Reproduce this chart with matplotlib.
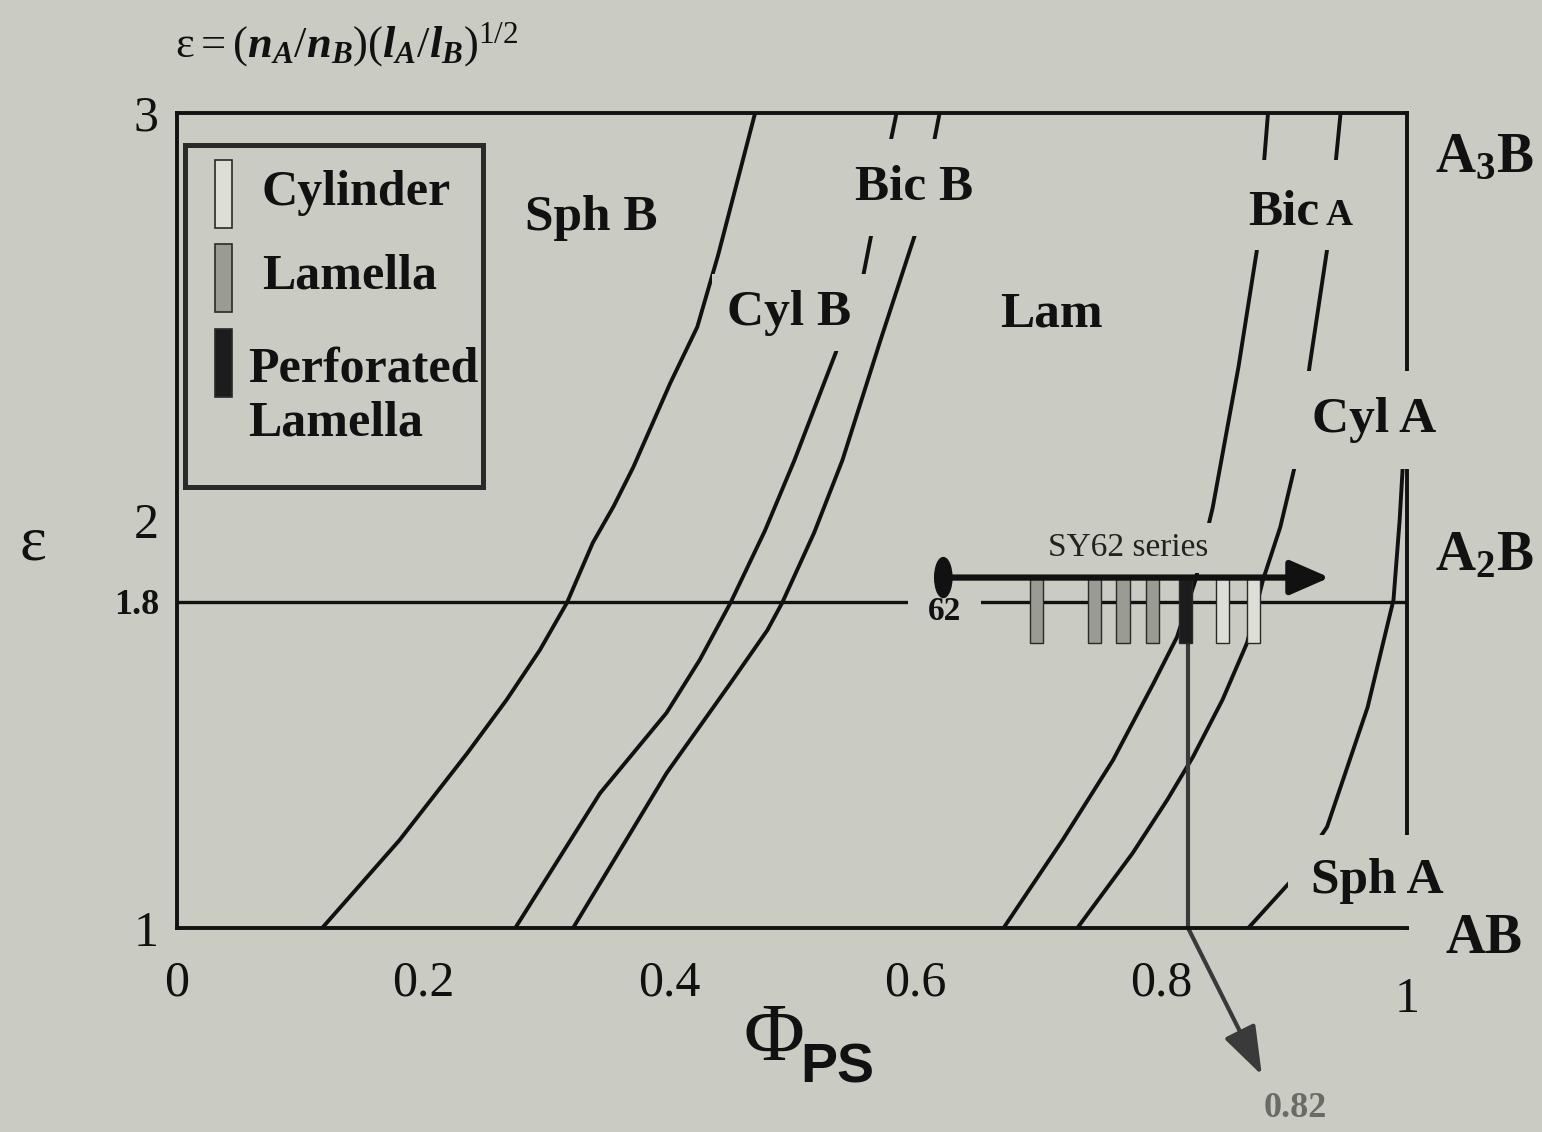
import matplotlib
matplotlib.use('Agg')
import matplotlib.pyplot as plt
from matplotlib.patches import Rectangle, Ellipse
import matplotlib.transforms as mtransforms

# ---------------- data ----------------
x_ticks = [0, 0.2, 0.4, 0.6, 0.8, 1.0]
x_tick_labels = ['0', '0.2', '0.4', '0.6', '0.8', '1']
y_ticks = [1, 1.8, 2, 3]
y_tick_labels = ['1', '1.8', '2', '3']

# phase boundaries (phi_PS, epsilon)
sphB_cylB_phi = [0.118, 0.181, 0.236, 0.268, 0.295, 0.317, 0.338, 0.355, 0.371, 0.401, 0.423, 0.440, 0.470]
sphB_cylB_eps = [1.0, 1.216, 1.429, 1.560, 1.682, 1.798, 1.945, 2.035, 2.131, 2.337, 2.475, 2.652, 3.0]

cylB_bicB_phi = [0.275, 0.344, 0.398, 0.425, 0.450, 0.478, 0.502, 0.537, 0.558, 0.566, 0.585]
cylB_bicB_eps = [1.0, 1.331, 1.528, 1.658, 1.798, 1.975, 2.148, 2.423, 2.602, 2.725, 3.0]

bicB_lam_phi = [0.322, 0.398, 0.450, 0.480, 0.492, 0.518, 0.541, 0.572, 0.602, 0.620]
bicB_lam_eps = [1.0, 1.380, 1.601, 1.731, 1.798, 1.970, 2.148, 2.443, 2.720, 3.0]

lam_bicA_phi = [0.672, 0.720, 0.761, 0.794, 0.813, 0.828, 0.842, 0.863, 0.878, 0.887]
lam_bicA_eps = [1.0, 1.216, 1.412, 1.601, 1.714, 1.854, 2.031, 2.377, 2.664, 3.0]

bicA_cylA_phi = [0.732, 0.777, 0.805, 0.826, 0.850, 0.870, 0.883, 0.897, 0.911, 0.921, 0.935, 0.946]
bicA_cylA_eps = [1.0, 1.184, 1.314, 1.420, 1.560, 1.700, 1.855, 1.984, 2.161, 2.383, 2.664, 3.0]

cylA_sphA_phi = [0.871, 0.905, 0.935, 0.968, 0.989, 0.994, 0.997]
cylA_sphA_eps = [1.0, 1.113, 1.248, 1.542, 1.805, 2.0, 2.156]

# SY62 series
series_eps = 1.8
series_label = '62'
arrow_eps = 1.86
arrow_start = 0.623
arrow_end = 0.937
sample_phi = [0.699, 0.746, 0.769, 0.793, 0.820, 0.850, 0.875]
sample_morph = ['Lamella', 'Lamella', 'Lamella', 'Lamella',
                'Perforated Lamella', 'Cylinder', 'Cylinder']
bar_bottom = 1.70
bar_height = 0.157
transition_phi = 0.822
transition_label = '0.82'

legend_labels = ['Cylinder', 'Lamella', 'Perforated\nLamella']
legend_keys = ['Cylinder', 'Lamella', 'Perforated Lamella']

phase_labels = ['Sph B', 'Cyl B', 'Bic B', 'Lam', 'Cyl A', 'Sph A']
phase_pos = [(0.337, 2.713), (0.498, 2.480), (0.599, 2.787), (0.711, 2.475),
             (0.973, 2.217), (0.976, 1.086)]
phase_pad = [None, 0.3, 0.5, None, 0.5, 0.45]

# ---------------- style ----------------
bg = '#cacbc2'
ink = '#111111'
morph_colors = {'Cylinder': '#dddfd7', 'Lamella': '#9a9c94', 'Perforated Lamella': '#1c1c1c'}

plt.rcParams['font.family'] = ['Liberation Serif', 'DejaVu Serif']
plt.rcParams['mathtext.fontset'] = 'custom'
plt.rcParams['mathtext.rm'] = 'Liberation Serif'
plt.rcParams['mathtext.it'] = 'Liberation Serif:italic:bold'
plt.rcParams['mathtext.bf'] = 'Liberation Serif:bold'

fig = plt.figure(figsize=(15.42, 11.32), dpi=100, facecolor=bg)
ax = fig.add_axes([177 / 1542, 204 / 1132, 1230 / 1542, 815 / 1132])
ax.set_facecolor(bg)
ax.set_xlim(0, 1)
ax.set_ylim(1, 3)

for side in ['left', 'bottom', 'top']:
    ax.spines[side].set_linewidth(2.8)
    ax.spines[side].set_color(ink)
    ax.spines[side].set_zorder(10)
ax.spines['right'].set_linewidth(2.8)
ax.spines['right'].set_color(ink)
ax.spines['right'].set_zorder(2)

ax.set_xticks(x_ticks)
ax.set_xticklabels(x_tick_labels, fontsize=36, color=ink)
ax.set_yticks(y_ticks)
ax.set_yticklabels(y_tick_labels, fontsize=36, color=ink)
ax.tick_params(axis='x', length=0, pad=23)
ax.tick_params(axis='y', length=0, pad=13)
for lab in ax.get_yticklabels():
    if lab.get_text() == '1.8':
        lab.set_fontsize(26)
        lab.set_fontweight('bold')
last = ax.get_xticklabels()[-1]
last.set_transform(last.get_transform() +
                   mtransforms.ScaledTranslation(0, -0.17, fig.dpi_scale_trans))

# phase boundaries
lw = 2.8
for px, py in [(sphB_cylB_phi, sphB_cylB_eps), (cylB_bicB_phi, cylB_bicB_eps),
               (bicB_lam_phi, bicB_lam_eps), (lam_bicA_phi, lam_bicA_eps),
               (bicA_cylA_phi, bicA_cylA_eps), (cylA_sphA_phi, cylA_sphA_eps)]:
    ax.plot(px, py, color=ink, lw=lw, solid_capstyle='butt', solid_joinstyle='round', zorder=2)

# epsilon = 1.8 line
ax.axhline(series_eps, color=ink, lw=2.4, zorder=2)

# phase labels
for lab, (x, y), pad in zip(phase_labels, phase_pos, phase_pad):
    kw = {}
    if pad is not None:
        kw['bbox'] = dict(boxstyle=f'square,pad={pad}', fc=bg, ec='none')
    ax.text(x, y, lab, fontsize=37, fontweight='bold', ha='center', va='baseline',
            color=ink, zorder=5, **kw)
# "Bic A": background patch (gap in the boundaries), then the two text pieces on top
ax.add_patch(Rectangle((0.848, 2.664), 0.115, 0.221, fc=bg, ec='none', zorder=4))
ax.text(0.929, 2.725, 'Bic', fontsize=37, fontweight='bold', ha='right', va='baseline',
        color=ink, zorder=5)
ax.text(0.934, 2.725, 'A', fontsize=27, fontweight='bold', ha='left', va='baseline',
        color=ink, zorder=5)

# composition labels on the right
for lab, y in [('A$_\\mathbf{3}$B', 2.855), ('A$_\\mathbf{2}$B', 1.879), ('AB', 0.939)]:
    ax.text(1.063, y, lab, fontsize=40, fontweight='bold', ha='center', va='baseline',
            color=ink, zorder=5, clip_on=False)

# series annotation
ax.text(0.773, 1.912, 'SY62 series', fontsize=24, ha='center', va='baseline', color='#222222',
        zorder=5, bbox=dict(boxstyle='square,pad=0.3', fc=bg, ec='none'))
ax.text(0.624, 1.776, series_label, fontsize=24, fontweight='bold', ha='center', va='center',
        color=ink, zorder=5, bbox=dict(boxstyle='square,pad=0.6', fc=bg, ec='none'))

ax.annotate('', xy=(arrow_end, arrow_eps), xytext=(arrow_start, arrow_eps),
            arrowprops=dict(arrowstyle='-|>,head_length=0.8,head_width=0.35',
                            mutation_scale=30, lw=4.5, color=ink,
                            shrinkA=0, shrinkB=0), zorder=8)
ax.add_patch(Ellipse((arrow_start, arrow_eps), 0.014, 0.098, color=ink, zorder=9))

# sample bars
for x, m in zip(sample_phi, sample_morph):
    ax.bar(x, bar_height, bottom=bar_bottom, width=0.0108, color=morph_colors[m],
           edgecolor='#2a2a2a', lw=1.0, zorder=6)

# transition line and arrow
ax.plot([transition_phi, transition_phi], [bar_bottom, 1.0], color='#3a3a3a', lw=3.0, zorder=5)
ax.annotate('', xy=(0.882, 0.639), xytext=(transition_phi, 1.0),
            arrowprops=dict(arrowstyle='-|>,head_length=1.0,head_width=0.35',
                            mutation_scale=30, lw=3.0, color='#3a3a3a',
                            shrinkA=0, shrinkB=0), annotation_clip=False, zorder=5)
ax.text(0.909, 0.558, transition_label, fontsize=26, fontweight='bold', color='#6a6a66',
        ha='center', va='center', clip_on=False)

# legend (manual)
ax.add_patch(Rectangle((0.0065, 0.541), 0.2425, 0.420, transform=ax.transAxes,
                       fc='none', ec='#2a2a2a', lw=3.6, zorder=7))
key_y = [0.859, 0.756, 0.652]
text_pos = [(0.0691, 0.902), (0.0691, 0.799), (0.0577, 0.652)]
for key, ky in zip(legend_keys, key_y):
    ax.add_patch(Rectangle((0.0309, ky), 0.0138, 0.083, transform=ax.transAxes,
                           fc=morph_colors[key], ec='#2a2a2a', lw=1.2, zorder=7))
for lab, (tx, ty) in zip(legend_labels, text_pos):
    ax.text(tx, ty, lab, transform=ax.transAxes, fontsize=36, fontweight='bold',
            ha='left', va='center', color=ink, zorder=7, linespacing=1.25)

# axis labels
ax.text(-0.117, 0.47, 'ε', transform=ax.transAxes, fontsize=46, ha='center', va='center',
        color=ink)
ax.text(0.4854, -0.162, 'Φ', transform=ax.transAxes, fontsize=60, ha='center',
        va='baseline', color=ink)
ax.text(0.507, -0.189, 'PS', transform=ax.transAxes, fontsize=40, fontweight='bold',
        family='Liberation Sans', ha='left', va='baseline', color=ink)

# formula
fig.text(175 / 1542, 1 - 45 / 1132, r'$\mathrm{\varepsilon} = (n_A/n_B)(l_A/l_B)^{1/2}$',
         fontsize=32, ha='left', va='center', color=ink)

fig.savefig('out.png', dpi=100, facecolor=bg)
